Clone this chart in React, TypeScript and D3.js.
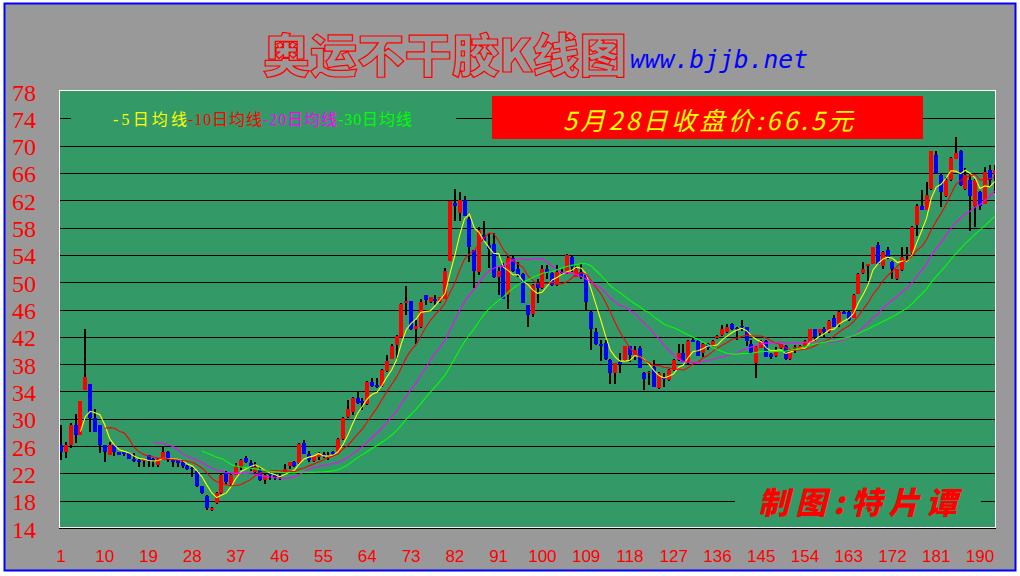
import React from 'react';
import * as d3 from 'd3';

const opens = [
  26.1, 25.2, 26.1, 29.1, 27.6, 34.2, 35.1, 30.05, 29.1, 26.1,
  24.7, 26.1, 25.2, 25.2, 25.0, 24.1, 23.9, 23.8, 24.7, 24.1,
  23.2, 24.0, 25.2, 24.0, 23.9, 23.7, 23.1, 22.8, 22.3, 20.1,
  18.7, 16.6, 17.6, 19.1, 22.0, 20.5, 21.8, 23.0, 24.2, 23.5,
  22.2, 22.5, 21.0, 22.1, 21.9, 21.8, 22.0, 23.1, 23.7, 23.5,
  26.5, 24.9, 23.8, 24.4, 24.9, 24.6, 25.2, 25.2, 27.0, 30.3,
  31.0, 33.1, 32.6, 32.1, 35.4, 34.9, 34.8, 37.0, 38.8, 40.8,
  41.9, 47.0, 47.2, 43.2, 43.5, 48.1, 47.1, 47.6, 47.1, 47.6,
  53.1, 61.6, 60.1, 62.1, 59.2, 54.7, 51.5, 56.9, 55.4, 55.6,
  50.7, 52.5, 48.1, 53.6, 52.0, 51.2, 46.6, 45.4, 49.9, 49.1,
  51.9, 51.3, 49.6, 51.5, 51.3, 53.7, 50.8, 51.5, 51.0, 45.7,
  42.7, 40.9, 41.1, 38.6, 36.7, 38.3, 38.6, 40.6, 39.3, 40.4,
  36.7, 36.7, 37.6, 34.5, 36.0, 35.7, 37.1, 38.6, 39.6, 38.1,
  41.6, 41.4, 39.6, 41.0, 40.6, 41.8, 42.2, 42.7, 43.9, 43.3,
  43.6, 43.4, 41.0, 38.2, 40.4, 41.4, 39.5, 39.2, 40.4, 40.6,
  38.7, 40.3, 40.4, 40.6, 41.3, 43.1, 42.5, 43.2, 42.7, 44.8,
  43.9, 45.7, 45.7, 44.8, 48.3, 51.3, 52.5, 52.7, 55.4, 52.3,
  54.7, 53.0, 50.5, 51.8, 54.0, 54.3, 58.4, 61.1, 60.6, 63.6,
  68.6, 65.7, 62.6, 64.9, 68.1, 69.2, 63.6, 65.0, 61.1, 63.2,
  61.5, 66.5, 65.7,
];

const highs = [
  29.1, 26.6, 29.4, 30.7, 32.6, 43.1, 35.1, 31.5, 29.1, 26.1,
  26.6, 26.1, 25.2, 25.2, 25.0, 25.0, 24.1, 24.1, 24.7, 24.3,
  24.3, 25.8, 25.3, 24.2, 24.0, 23.9, 23.2, 23.0, 22.4, 20.2,
  18.8, 17.1, 19.2, 21.9, 22.3, 21.9, 23.5, 24.1, 24.5, 23.9,
  23.6, 23.0, 21.9, 22.2, 22.0, 21.9, 23.4, 23.6, 23.8, 26.5,
  26.9, 25.3, 24.6, 25.2, 25.2, 25.2, 25.3, 27.2, 30.2, 32.8,
  33.2, 34.0, 33.1, 35.5, 35.9, 35.9, 37.3, 39.3, 41.0, 42.2,
  47.0, 49.5, 47.3, 44.5, 47.6, 48.1, 47.9, 48.1, 47.9, 52.1,
  61.9, 63.6, 63.2, 62.6, 59.5, 54.7, 58.1, 59.0, 57.2, 57.2,
  52.2, 52.8, 53.8, 54.0, 53.0, 51.3, 46.7, 49.7, 50.5, 52.5,
  52.5, 51.5, 52.5, 51.9, 54.1, 53.8, 52.4, 52.6, 51.1, 45.8,
  43.3, 41.6, 41.5, 38.7, 38.2, 39.6, 40.7, 40.7, 40.6, 40.6,
  36.8, 37.0, 38.6, 36.8, 36.7, 37.3, 38.8, 41.0, 41.0, 41.6,
  41.8, 41.6, 41.1, 41.1, 41.5, 42.3, 43.7, 43.9, 44.0, 43.5,
  44.5, 43.4, 41.6, 40.6, 41.6, 41.5, 39.6, 40.5, 41.0, 40.8,
  40.2, 40.8, 40.8, 41.5, 43.2, 43.2, 43.2, 43.4, 44.5, 45.2,
  45.8, 45.8, 45.8, 48.2, 51.3, 52.9, 52.7, 55.2, 55.9, 54.5,
  55.2, 53.1, 52.0, 55.2, 55.2, 58.2, 61.4, 63.5, 64.7, 69.2,
  69.2, 65.8, 65.4, 68.4, 71.2, 69.3, 66.7, 66.0, 65.1, 63.3,
  66.9, 67.1, 67.1,
];

const lows = [
  24.0, 24.3, 25.7, 26.5, 27.6, 34.2, 28.1, 28.1, 25.0, 23.6,
  24.7, 24.5, 24.7, 24.5, 24.1, 23.6, 23.0, 23.0, 23.0, 23.0,
  23.0, 23.9, 23.7, 23.0, 23.0, 22.8, 22.5, 21.5, 20.0, 19.0,
  16.6, 16.5, 17.5, 19.0, 20.5, 20.0, 21.7, 22.5, 23.5, 22.4,
  22.1, 20.9, 20.5, 21.0, 21.0, 21.0, 21.9, 22.6, 23.0, 23.4,
  24.8, 23.6, 23.7, 23.9, 24.3, 23.9, 24.7, 25.1, 26.9, 30.1,
  30.6, 32.2, 31.3, 32.0, 34.7, 34.5, 34.7, 36.8, 38.7, 38.8,
  41.8, 45.2, 43.0, 41.0, 43.3, 46.6, 47.0, 46.7, 47.0, 47.5,
  53.1, 59.0, 59.0, 59.7, 53.0, 49.1, 51.0, 56.0, 52.1, 50.6,
  48.1, 47.5, 46.1, 51.5, 50.8, 46.9, 43.5, 44.9, 46.9, 49.0,
  50.5, 49.5, 49.5, 51.0, 51.2, 51.5, 50.7, 50.4, 46.0, 40.0,
  40.8, 38.5, 38.6, 35.1, 35.1, 36.7, 38.5, 38.3, 38.6, 37.4,
  34.2, 35.0, 34.6, 34.4, 34.6, 35.5, 37.0, 38.5, 38.3, 38.0,
  41.2, 39.2, 39.1, 40.0, 40.5, 41.7, 42.1, 42.6, 43.0, 41.6,
  42.9, 40.6, 39.5, 35.9, 40.3, 39.0, 38.7, 39.1, 40.2, 38.6,
  38.6, 39.6, 40.3, 40.5, 41.2, 41.4, 41.9, 42.0, 42.6, 43.4,
  43.5, 45.3, 44.3, 44.7, 48.2, 51.2, 50.2, 52.6, 52.6, 52.0,
  53.4, 50.5, 50.3, 51.7, 53.0, 54.0, 56.8, 60.5, 60.5, 63.5,
  66.0, 61.0, 62.5, 64.8, 68.0, 64.1, 63.5, 57.5, 58.1, 60.5,
  61.4, 64.0, 63.0,
];

const closes = [
  25.2, 26.1, 29.1, 27.6, 32.6, 36.1, 30.05, 28.1, 26.1, 25.2,
  26.1, 25.2, 24.7, 24.9, 24.1, 23.8, 23.6, 24.1, 23.8, 23.8,
  24.1, 25.2, 24.0, 23.6, 23.5, 23.1, 22.6, 22.6, 20.1, 19.1,
  17.0, 17.0, 19.1, 21.8, 20.8, 21.8, 22.9, 24.0, 23.7, 22.7,
  23.0, 21.0, 21.8, 21.8, 21.5, 21.4, 22.6, 23.6, 23.1, 26.3,
  24.9, 24.0, 24.5, 24.9, 24.5, 24.7, 24.8, 27.1, 30.1, 31.4,
  33.1, 32.3, 32.3, 35.4, 34.8, 34.6, 37.2, 38.5, 40.6, 42.1,
  46.8, 47.2, 43.2, 43.6, 47.1, 47.4, 47.8, 47.2, 47.8, 51.7,
  61.9, 61.1, 62.1, 59.7, 55.2, 51.7, 57.6, 56.1, 54.9, 50.7,
  51.7, 47.6, 53.6, 51.7, 51.0, 46.9, 45.2, 49.6, 49.1, 52.0,
  51.3, 49.6, 51.5, 51.3, 54.0, 52.2, 52.0, 50.7, 47.1, 43.1,
  41.0, 40.6, 38.7, 36.7, 38.1, 38.1, 40.6, 39.3, 40.1, 37.5,
  35.8, 36.9, 34.7, 36.7, 35.8, 37.1, 38.6, 39.6, 38.3, 41.4,
  41.3, 39.2, 41.0, 40.4, 41.4, 42.1, 43.1, 43.5, 43.1, 43.1,
  43.4, 41.4, 39.7, 40.5, 41.4, 39.1, 39.0, 40.1, 40.9, 38.7,
  40.1, 40.5, 40.7, 41.4, 43.1, 42.0, 43.1, 42.7, 44.3, 43.5,
  45.7, 45.4, 44.5, 48.1, 51.2, 52.0, 52.6, 55.1, 52.7, 54.4,
  53.5, 51.9, 51.9, 53.7, 54.2, 58.1, 61.1, 60.6, 62.7, 69.2,
  66.0, 63.2, 65.0, 68.2, 68.9, 64.2, 65.7, 62.6, 65.0, 61.1,
  66.1, 65.0, 66.5,
];

const xTicks = [1, 10, 19, 28, 37, 46, 55, 64, 73, 82, 91, 100, 109, 118, 127, 136, 145, 154, 163, 172, 181, 190];
const yTicks = [78, 74, 70, 66, 62, 58, 54, 50, 46, 42, 38, 34, 30, 26, 22, 18, 14];
const gridValues = [74, 70, 66, 62, 58, 54, 50, 46, 42, 38, 34, 30, 26, 22, 18];

const maPeriods = [5, 10, 20, 30];
const maColors = ['#FFFF00', '#FF0000', '#FF00FF', '#00FF00'];
const legendLabels = ['-5日均线', '-10日均线', '-20日均线', '-30日均线'];

const titleText = '奥运不干胶K线图';
const siteText = 'www.bjjb.net';
const priceText = '5月28日收盘价:66.5元';
const creditText = '制图:特片谭';

const UP = '#FF0000';
const DOWN = '#0000FF';
const PLOT_BG = '#339966';
const PAGE_BG = '#999999';

export default function App() {
  const W = 1020;
  const H = 576;
  const plot = { left: 59, right: 995, top: 90, bottom: 527 };

  const x = d3.scaleLinear().domain([1, 190]).range([61, 980]);
  const y = d3.scaleLinear().domain([14, 78]).range([528, 91]);

  const days = d3.range(1, closes.length + 1);

  const maSeries = maPeriods.map((p) =>
    days.map((d, i) => [d, i >= p - 1 ? (d3.mean(closes.slice(i - p + 1, i + 1)) as number) : null] as [number, number | null])
  );

  const line = d3
    .line<[number, number | null]>()
    .defined((d) => d[1] != null)
    .x((d) => x(d[0]))
    .y((d) => y(d[1] as number));

  const bodyW = 4;
  const wickW = 2;

  return (
    <svg
      width={W}
      height={H}
      style={{ position: 'absolute', left: 0, top: 0, display: 'block' }}
      xmlns="http://www.w3.org/2000/svg"
    >
      <defs>
        <clipPath id="plotClip">
          <rect x={plot.left} y={plot.top} width={plot.right - plot.left} height={plot.bottom - plot.top} />
        </clipPath>
      </defs>
      <rect x={0} y={0} width={W} height={H} fill="#FFFFFF" />
      <rect x={4.5} y={3.5} width={1011} height={567} fill={PAGE_BG} stroke="#0000FF" strokeWidth={2} />

      {/* title */}
      <text
        x={263}
        y={72}
        fontFamily="'Noto Sans CJK SC', sans-serif"
        fontWeight={900}
        fontSize={46}
        fill={PAGE_BG}
        stroke="#FF0000"
        strokeWidth={1.2}
        textLength={364}
        lengthAdjust="spacingAndGlyphs"
      >
        {titleText}
      </text>
      <text
        x={630}
        y={68}
        fontFamily="'DejaVu Sans Mono', monospace"
        fontStyle="italic"
        fontSize={24}
        fill="#0000FF"
        textLength={178}
        lengthAdjust="spacingAndGlyphs"
      >
        {siteText}
      </text>

      {/* plot area */}
      <rect x={plot.left} y={plot.top} width={plot.right - plot.left} height={plot.bottom - plot.top} fill={PLOT_BG} />
      {gridValues.map((v) => (
        <line
          key={'g' + v}
          x1={plot.left}
          x2={plot.right}
          y1={Math.round(y(v)) + 0.5}
          y2={Math.round(y(v)) + 0.5}
          stroke="#000000"
          strokeWidth={1}
          shapeRendering="crispEdges"
        />
      ))}

      {/* candles */}
      <g clipPath="url(#plotClip)" shapeRendering="crispEdges">
        {days.map((d, i) => {
          const o = opens[i];
          const c = closes[i];
          const hi = highs[i];
          const lo = lows[i];
          const cx = x(d);
          const top = y(Math.max(o, c));
          const bot = y(Math.min(o, c));
          return (
            <g key={'c' + d}>
              <rect x={cx - wickW / 2} y={y(hi)} width={wickW} height={Math.max(1, y(lo) - y(hi))} fill="#000000" />
              <rect
                x={cx - bodyW / 2}
                y={top}
                width={bodyW}
                height={Math.max(1.5, bot - top)}
                fill={c > o ? UP : DOWN}
              />
            </g>
          );
        })}
      </g>

      {/* moving averages */}
      <g clipPath="url(#plotClip)">
        {maSeries.map((s, k) => (
          <path key={'ma' + k} d={line(s) || ''} fill="none" stroke={maColors[k]} strokeWidth={1.1} />
        ))}
      </g>

      {/* legend */}
      <rect x={71} y={107} width={385} height={24} fill={PLOT_BG} />
      {legendLabels.map((lab, k) => (
        <text
          key={'lg' + k}
          x={113 + k * 75}
          y={125}
          fontFamily="'Liberation Serif', 'Noto Sans CJK SC', serif"
          fontSize={16}
          fill={maColors[k]}
          textLength={74}
          lengthAdjust="spacing"
        >
          {lab}
        </text>
      ))}

      {/* price box */}
      <rect x={492} y={96} width={431} height={43} fill="#FF0000" />
      <text
        x={563}
        y={130}
        fontFamily="'Noto Sans CJK SC', sans-serif"
        fontStyle="italic"
        fontSize={25}
        fill="#FFFF00"
        textLength={290}
        lengthAdjust="spacing"
      >
        {priceText}
      </text>

      {/* credit */}
      <rect x={735} y={485} width={246} height={34} fill={PLOT_BG} />
      <text
        x={758}
        y={514}
        fontFamily="'Noto Sans CJK SC', sans-serif"
        fontStyle="italic"
        fontWeight={900}
        fontSize={31}
        fill="#FF0000"
        textLength={199}
        lengthAdjust="spacing"
      >
        {creditText}
      </text>

      {/* frame */}
      <rect
        x={plot.left + 0.5}
        y={plot.top + 0.5}
        width={plot.right - plot.left}
        height={plot.bottom - plot.top}
        fill="none"
        stroke="#FFFFFF"
        strokeWidth={1.5}
        shapeRendering="crispEdges"
      />
      <line x1={plot.left} x2={plot.right + 1} y1={plot.bottom + 1.5} y2={plot.bottom + 1.5} stroke="#000000" strokeWidth={1} shapeRendering="crispEdges" />

      {/* y axis labels */}
      {yTicks.map((v) => (
        <text
          key={'y' + v}
          x={36}
          y={y(v) + 9.5}
          textAnchor="end"
          fontFamily="'Liberation Serif', 'Times New Roman', serif"
          fontSize={24}
          fill="#FF0000"
        >
          {v}
        </text>
      ))}

      {/* x axis labels */}
      {xTicks.map((t) => (
        <text
          key={'x' + t}
          x={x(t)}
          y={562}
          textAnchor="middle"
          fontFamily="'Liberation Sans', Arial, sans-serif"
          fontSize={17}
          fill="#FF0000"
        >
          {t}
        </text>
      ))}
    </svg>
  );
}
